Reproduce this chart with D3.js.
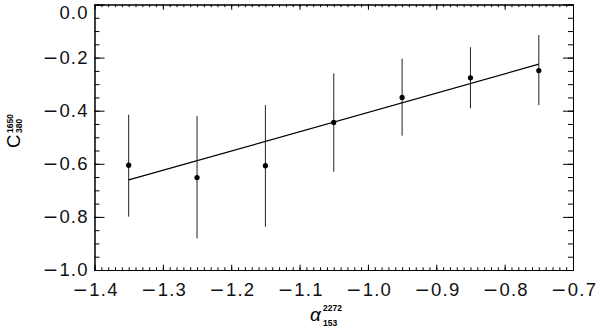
<!DOCTYPE html>
<html>
<head>
<meta charset="utf-8">
<script src="https://cdn.jsdelivr.net/npm/d3@7"></script>
<style>
  body { margin: 0; background: #fff; }
  svg { display: block; }
  .tick text { font-family: "Liberation Sans", Arial, sans-serif; font-size: 18.5px; letter-spacing: 1.2px; fill: #111; }
  .tick text .minus { font-family: "DejaVu Sans", sans-serif; }
</style>
</head>
<body>
<div class="chart"></div>
<script>
// data
const alphaVals = [-1.35, -1.25, -1.15, -1.05, -0.95, -0.85, -0.75];
const cVals = [-0.605, -0.652, -0.607, -0.444, -0.350, -0.276, -0.249];
const errLow = [-0.799, -0.881, -0.837, -0.630, -0.494, -0.391, -0.379];
const errHigh = [-0.415, -0.420, -0.379, -0.259, -0.204, -0.161, -0.115];
const fitX = [-1.35, -0.75];
const fitY = [-0.661, -0.225];
const xTicks = [-1.4, -1.3, -1.2, -1.1, -1.0, -0.9, -0.8, -0.7];
const yTicks = [0.0, -0.2, -0.4, -0.6, -0.8, -1.0];

const W = 600, H = 332;
const margin = { top: 4.5, right: 27, bottom: 62, left: 94.5 };
const width = W - margin.left - margin.right;
const height = H - margin.top - margin.bottom;

const svg = d3.select(".chart")
    .append("svg")
    .attr("width", W)
    .attr("height", H)
    .append("g")
    .attr("transform", `translate(${margin.left}, ${margin.top})`);

const x = d3.scaleLinear().domain([-1.4, -0.7]).range([0, width]);
const y = d3.scaleLinear().domain([-1.0, 0.0]).range([height, 0]);

const xMinor = d3.range(-140, -69, 1).map(d => d / 100);
const yMinor = d3.range(-100, 1, 5).map(d => d / 100);
const fmt = d3.format(".1f");

// long IDL-style minus: put the sign in its own tspan
function splitMinus(sel) {
    sel.each(function() {
        const t = d3.select(this);
        const s = t.text();
        if (s.startsWith("−")) {
            t.text("");
            t.append("tspan").attr("class", "minus").text("−");
            t.append("tspan").text(s.slice(1));
        }
    });
}

// minor ticks on all sides
svg.append("g").attr("transform", `translate(0,${height})`)
    .call(d3.axisBottom(x).tickValues(xMinor).tickSize(-2.7).tickSizeOuter(0).tickFormat(""));
svg.append("g")
    .call(d3.axisTop(x).tickValues(xMinor).tickSize(-2.7).tickSizeOuter(0).tickFormat(""));
svg.append("g")
    .call(d3.axisLeft(y).tickValues(yMinor).tickSize(-5).tickSizeOuter(0).tickFormat(""));
svg.append("g").attr("transform", `translate(${width},0)`)
    .call(d3.axisRight(y).tickValues(yMinor).tickSize(-5).tickSizeOuter(0).tickFormat(""));

// major ticks with labels
const xAxis = svg.append("g").attr("transform", `translate(0,${height})`)
    .call(d3.axisBottom(x).tickValues(xTicks).tickSize(-5.3).tickSizeOuter(0).tickPadding(13).tickFormat(fmt));
xAxis.selectAll("text").attr("dx", "0.6px").call(splitMinus);
svg.append("g")
    .call(d3.axisTop(x).tickValues(xTicks).tickSize(-5.3).tickSizeOuter(0).tickFormat(""));
const yAxis = svg.append("g")
    .call(d3.axisLeft(y).tickValues(yTicks).tickSize(-10).tickSizeOuter(0).tickPadding(7).tickFormat(fmt));
yAxis.selectAll("text")
    .attr("dx", "1.2px")
    .attr("y", d => Math.max(0, 8 - y(d)))
    .call(splitMinus);
svg.append("g").attr("transform", `translate(${width},0)`)
    .call(d3.axisRight(y).tickValues(yTicks).tickSize(-10).tickSizeOuter(0).tickFormat(""));

svg.selectAll(".domain").attr("stroke", "#000").attr("stroke-width", 1);
svg.selectAll(".tick line").attr("stroke", "#000").attr("stroke-width", 1);

// error bars
const points = alphaVals.map((a, i) => ({ a, c: cVals[i], lo: errLow[i], hi: errHigh[i] }));
svg.selectAll(".err")
    .data(points)
    .enter()
    .append("line")
    .attr("class", "err")
    .attr("x1", d => x(d.a))
    .attr("x2", d => x(d.a))
    .attr("y1", d => y(d.lo))
    .attr("y2", d => y(d.hi))
    .attr("stroke", "#222")
    .attr("stroke-width", 1);

// fit line
const line = d3.line().x(d => x(d[0])).y(d => y(d[1]));
svg.append("path")
    .attr("d", line(fitX.map((v, i) => [v, fitY[i]])))
    .attr("fill", "none")
    .attr("stroke", "#000")
    .attr("stroke-width", 1.3);

// points
svg.selectAll(".dot")
    .data(points)
    .enter()
    .append("circle")
    .attr("class", "dot")
    .attr("cx", d => x(d.a))
    .attr("cy", d => y(d.c))
    .attr("r", 2.6)
    .attr("fill", "#000");

// axis titles
const root = d3.select(".chart svg");
const font = "'Liberation Sans', Arial, sans-serif";

const xt = root.append("g").attr("transform", "translate(310, 321)");
xt.append("text").attr("x", 0).attr("y", 0)
    .style("font-family", font).style("font-size", "19px").style("font-style", "italic").text("α");
xt.append("text").attr("x", 13).attr("y", -10)
    .style("font-family", font).style("font-size", "8.5px").style("font-weight", "bold").text("2272");
xt.append("text").attr("x", 13).attr("y", 5)
    .style("font-family", font).style("font-size", "8.5px").style("font-weight", "bold").text("153");

const yt = root.append("g").attr("transform", "translate(19.5, 148) rotate(-90)");
yt.append("text").attr("x", 0).attr("y", 0)
    .style("font-family", font).style("font-size", "18.5px").text("C");
yt.append("text").attr("x", 15).attr("y", -7)
    .style("font-family", font).style("font-size", "8.5px").style("font-weight", "bold").text("1650");
yt.append("text").attr("x", 15).attr("y", 2)
    .style("font-family", font).style("font-size", "8.5px").style("font-weight", "bold").text("380");
</script>
</body>
</html>
